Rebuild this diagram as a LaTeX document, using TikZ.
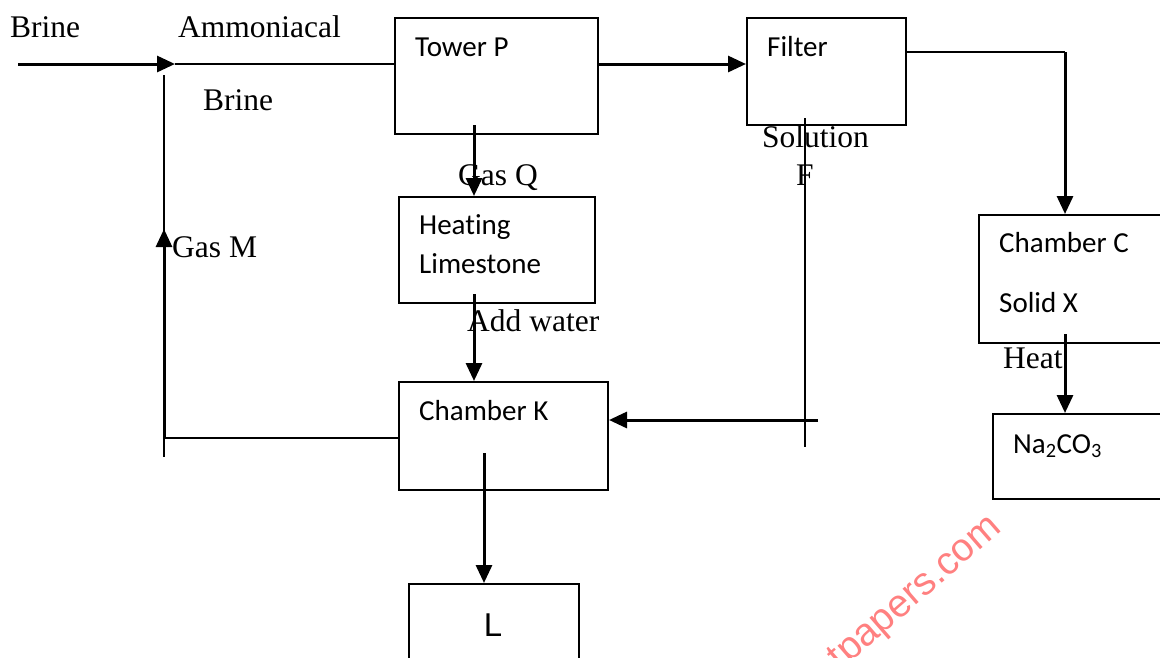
\documentclass[tikz,border=0pt]{standalone}
\usepackage{fontspec}
\setmainfont{Liberation Serif}
\newfontfamily\boxfont[Ligatures={NoCommon}]{Carlito}
\newfontfamily\wmfont{Liberation Sans}
\usetikzlibrary{arrows.meta}

\begin{document}
\begin{tikzpicture}[x=1pt,y=-1pt,line join=miter,
  box/.style={draw,line width=2pt,anchor=north west,inner sep=0pt},
  lbl/.style={anchor=base west,inner sep=0pt,font=\fontsize{31.5}{36}\selectfont},
  intext/.style={anchor=base west,inner sep=0pt,font=\boxfont\fontsize{29}{33}\selectfont},
  thinline/.style={line width=2pt},
  flow/.style={line width=3pt,-{Triangle[length=18pt,width=16pt]}}]
  \useasboundingbox (0,0) rectangle (1160,657);
  \clip (0,0) rectangle (1160,657);
  % boxes (top-left corner, size in px)
  \node[box,minimum width=203pt,minimum height=116pt] (tower) at (394,17) {};
  \node[box,minimum width=159pt,minimum height=107pt] (filter) at (746,17) {};
  \node[box,minimum width=196pt,minimum height=106pt] (heat) at (398,196) {};
  \node[box,minimum width=209pt,minimum height=108pt] (chamK) at (398,381) {};
  \node[box,minimum width=170pt,minimum height=90pt] (Lbox) at (408,583) {};
  \node[box,minimum width=200pt,minimum height=128pt] (chamC) at (978,214) {};
  \node[box,minimum width=190pt,minimum height=85pt] (soda) at (992,413) {};
  % texts inside the boxes
  \node[intext] (towerT) at (415,56) {Tower P};
  \node[intext] (filterT) at (767,56) {Filter};
  \node[intext] (heatT1) at (419,234) {Heating};
  \node[intext] (heatT2) at (419,273) {Limestone};
  \node[intext] (chamKT) at (419,420) {Chamber K};
  \node[intext] (chamCT1) at (999,252) {Chamber C};
  \node[intext] (chamCT2) at (999,312) {Solid X};
  \node[intext] (sodaT) at (1013,453) {Na\textsubscript{2}CO\textsubscript{3}};
  \node[anchor=base,inner sep=0pt,font=\wmfont\fontsize{33}{36}\selectfont] (LT) at (493,636) {L};
  % free labels
  \node[lbl] (brineA) at (10,37) {Brine};
  \node[lbl] (ammon) at (178,37) {Ammoniacal};
  \node[lbl] (brineB) at (203,110) {Brine};
  \node[lbl] (gasQ) at (458,185) {Gas Q};
  \node[lbl] (solF1) at (762,147) {Solution};
  \node[anchor=base,inner sep=0pt,font=\fontsize{31.5}{36}\selectfont] (solF2) at (805,185) {F};
  \node[lbl] (gasM) at (172,257) {Gas M};
  \node[lbl] (water) at (467,331) {Add water};
  \node[lbl] (heatL) at (1003,368) {Heat};
  % connector end points
  \coordinate (in) at (18,64);
  \coordinate (mix) at (175,64);
  \coordinate (Mtop) at (164,75);
  \coordinate (Mbot) at (164,457);
  \coordinate (Mturn) at (164,438);
  \coordinate (Marr) at (164,229);
  \coordinate (Qstart) at (474,125);
  \coordinate (Wstart) at (474,294);
  \coordinate (Ftop) at (805,118);
  \coordinate (Fbot) at (805,447);
  \coordinate (Fstart) at (818,420);
  \coordinate (Lstart) at (484,453);
  \coordinate (Cturn) at (1065,52);
  \coordinate (Xstart) at (1065,334);
  % brine line and Gas M return
  \draw[flow] (in) -- (mix);
  \draw[thinline] (mix) -- (mix -| tower.west);
  \draw[thinline] (Mtop) -- (Mbot);
  \draw[flow] (Mturn) -- (Marr);
  \draw[thinline] (Mturn) -- (Mturn -| chamK.west);
  % main flow
  \draw[flow] (mix -| tower.east) -- (mix -| filter.west);
  \draw[thinline] (Cturn -| filter.east) -- (Cturn);
  \draw[flow] (Cturn) -- (Cturn |- chamC.north);
  \draw[flow] (Qstart) -- (Qstart |- heat.north);
  \draw[flow] (Wstart) -- (Wstart |- chamK.north);
  \draw[thinline] (Ftop) -- (Fbot);
  \draw[flow] (Fstart) -- (Fstart -| chamK.east);
  \draw[flow] (Lstart) -- (Lstart |- Lbox.north);
  \draw[flow] (Xstart) -- (Xstart |- soda.north);
  % watermark
  \node[rotate=41,anchor=base east,inner sep=0pt,text=red!50,font=\wmfont\fontsize{39}{40}\selectfont] (wm) at (1003,530) {tpapers.com};
\end{tikzpicture}
\end{document}
